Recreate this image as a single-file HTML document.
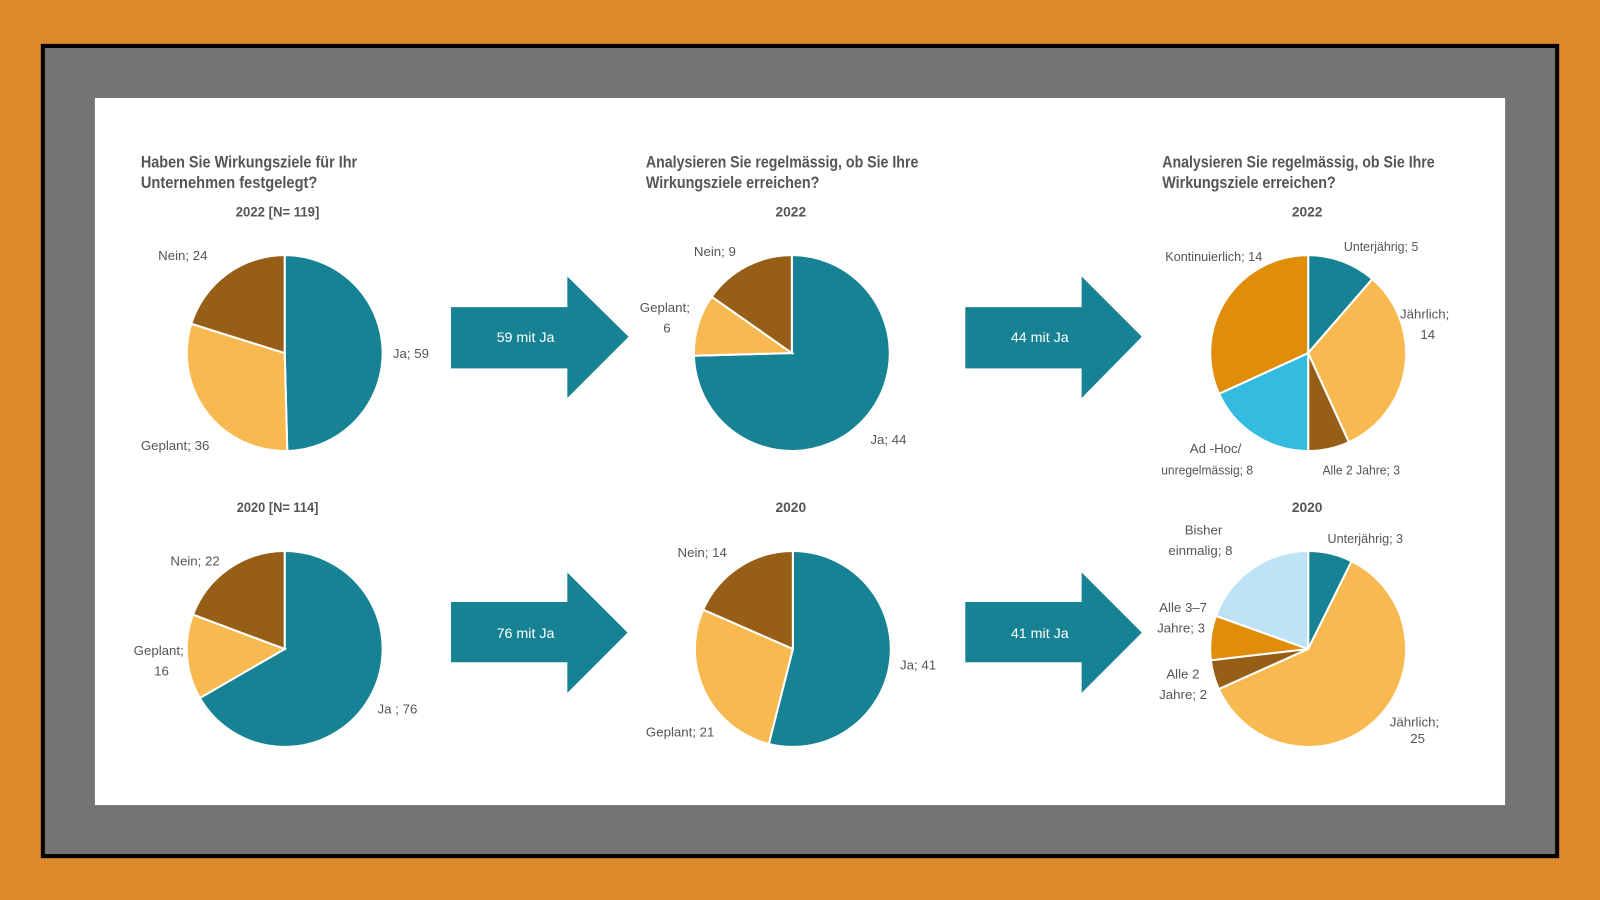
<!DOCTYPE html>
<html><head><meta charset="utf-8"><style>
html,body{margin:0;padding:0;width:1600px;height:900px;overflow:hidden;background:#DD8A2A}
svg{display:block}
text{font-family:"Liberation Sans Narrow","Liberation Sans",sans-serif;fill:#555}
.t{font-size:16px;font-weight:bold}
.s{font-size:13.5px;font-weight:bold;fill:#555}
.l{font-size:13px;fill:#555}
.a{font-size:14px;fill:#fff}
</style></head><body>
<svg id="s" width="1600" height="900" viewBox="0 0 1568 882">
<rect x="0" y="0" width="1568" height="882" fill="#DD8A2A"/>
<rect x="42" y="45" width="1484" height="794" fill="#737373" stroke="#000" stroke-width="4"/>
<rect x="93" y="96" width="1382" height="693" fill="#fff"/>
<g id="pies"></g>
<g fill="#168294">
<polygon points="442,301 556,301 556,271 616,330 556,390 556,361 442,361"/>
<polygon points="946,301 1060,301 1060,271 1119,330 1060,390 1060,361 946,361"/>
<polygon points="442,590 556,590 556,561 615,620 556,679 556,649 442,649"/>
<polygon points="946,590 1060,590 1060,561 1119,620 1060,679 1060,649 946,649"/>
</g>
<text class="a" x="515" y="335" text-anchor="middle">59 mit Ja</text>
<text class="a" x="1019" y="335" text-anchor="middle">44 mit Ja</text>
<text class="a" x="515" y="625" text-anchor="middle">76 mit Ja</text>
<text class="a" x="1019" y="625" text-anchor="middle">41 mit Ja</text>
<text class="t" x="138" y="164" textLength="212" lengthAdjust="spacingAndGlyphs">Haben Sie Wirkungsziele für Ihr</text>
<text class="t" x="138" y="184" textLength="173" lengthAdjust="spacingAndGlyphs">Unternehmen festgelegt?</text>
<text class="t" x="633" y="164" textLength="267" lengthAdjust="spacingAndGlyphs">Analysieren Sie regelmässig, ob Sie Ihre</text>
<text class="t" x="633" y="184" textLength="170" lengthAdjust="spacingAndGlyphs">Wirkungsziele erreichen?</text>
<text class="t" x="1139" y="164" textLength="267" lengthAdjust="spacingAndGlyphs">Analysieren Sie regelmässig, ob Sie Ihre</text>
<text class="t" x="1139" y="184" textLength="170" lengthAdjust="spacingAndGlyphs">Wirkungsziele erreichen?</text>
<text class="s" x="272" y="212" text-anchor="middle" textLength="82" lengthAdjust="spacingAndGlyphs">2022  [N= 119]</text>
<text class="s" x="775" y="212" text-anchor="middle">2022</text>
<text class="s" x="1281" y="212" text-anchor="middle">2022</text>
<text class="s" x="272" y="502" text-anchor="middle" textLength="80" lengthAdjust="spacingAndGlyphs">2020 [N= 114]</text>
<text class="s" x="775" y="502" text-anchor="middle">2020</text>
<text class="s" x="1281" y="502" text-anchor="middle">2020</text>
<g>
<text class="l" x="155" y="255">Nein; 24</text>
<text class="l" x="385" y="351">Ja; 59</text>
<text class="l" x="138" y="441">Geplant; 36</text>
<text class="l" x="680" y="251">Nein; 9</text>
<text class="l" x="627" y="306">Geplant;</text>
<text class="l" x="650" y="326">6</text>
<text class="l" x="853" y="435">Ja; 44</text>
<text class="l" x="1142" y="256" textLength="95" lengthAdjust="spacingAndGlyphs">Kontinuierlich; 14</text>
<text class="l" x="1317" y="246" textLength="73" lengthAdjust="spacingAndGlyphs">Unterjährig; 5</text>
<text class="l" x="1372" y="312">Jährlich;</text>
<text class="l" x="1392" y="332">14</text>
<text class="l" x="1166" y="444">Ad -Hoc/</text>
<text class="l" x="1138" y="465" textLength="90" lengthAdjust="spacingAndGlyphs">unregelmässig; 8</text>
<text class="l" x="1296" y="465" textLength="76" lengthAdjust="spacingAndGlyphs">Alle 2 Jahre; 3</text>
<text class="l" x="167" y="554">Nein; 22</text>
<text class="l" x="131" y="642">Geplant;</text>
<text class="l" x="151" y="662">16</text>
<text class="l" x="370" y="699">Ja ; 76</text>
<text class="l" x="664" y="546">Nein; 14</text>
<text class="l" x="882" y="656">Ja; 41</text>
<text class="l" x="633" y="722">Geplant; 21</text>
<text class="l" x="1161" y="524">Bisher</text>
<text class="l" x="1145" y="544">einmalig; 8</text>
<text class="l" x="1301" y="532" textLength="74" lengthAdjust="spacingAndGlyphs">Unterjährig; 3</text>
<text class="l" x="1136" y="600">Alle 3–7</text>
<text class="l" x="1134" y="620">Jahre; 3</text>
<text class="l" x="1143" y="665">Alle 2</text>
<text class="l" x="1136" y="685">Jahre; 2</text>
<text class="l" x="1362" y="712">Jährlich;</text>
<text class="l" x="1382" y="728">25</text>
</g>
</svg>
<script>
var T="#168294",LO="#F8B950",BR="#975E17",OR="#E08D0C",CY="#34BCE0",LB="#BEE3F7";
var pies=[
[279,346,[[59,T],[36,LO],[24,BR]]],
[776,346,[[44,T],[6,LO],[9,BR]]],
[1282,346,[[5,T],[14,LO],[3,BR],[8,CY],[14,OR]]],
[279,636,[[76,T],[16,LO],[22,BR]]],
[777,636,[[41,T],[21,LO],[14,BR]]],
[1282,636,[[3,T],[25,LO],[2,BR],[3,OR],[8,LB]]]
];
var g=document.getElementById('pies'),h='',R=96;
pies.forEach(function(p){
 var tot=0;p[2].forEach(function(s){tot+=s[0]});
 var a=0;
 p[2].forEach(function(s){
  var a0=a/tot*2*Math.PI,a1=(a+s[0])/tot*2*Math.PI;a+=s[0];
  var x0=p[0]+R*Math.sin(a0),y0=p[1]-R*Math.cos(a0),x1=p[0]+R*Math.sin(a1),y1=p[1]-R*Math.cos(a1);
  var lg=(a1-a0)>Math.PI?1:0;
  h+='<path d="M'+p[0]+','+p[1]+' L'+x0+','+y0+' A'+R+','+R+' 0 '+lg+' 1 '+x1+','+y1+' Z" fill="'+s[1]+'" stroke="#fff" stroke-width="2"/>';
 });
});
g.innerHTML=h;
</script>
</body></html>
